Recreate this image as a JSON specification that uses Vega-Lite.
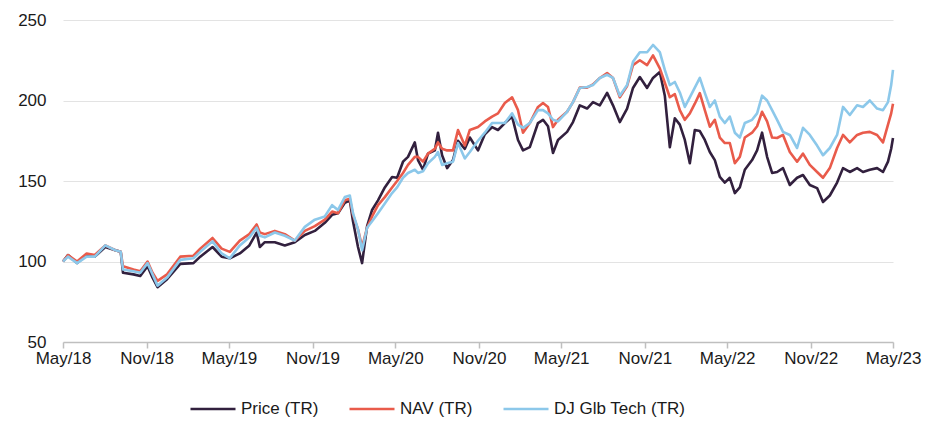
{
  "$schema": "https://vega.github.io/schema/vega-lite/v6.json",
  "width": 830,
  "height": 322,
  "autosize": {"type": "none"},
  "padding": {"left": 63, "top": 20, "right": 48, "bottom": 79},
  "background": "white",
  "config": {
    "view": {"stroke": null},
    "font": "Liberation Sans",
    "axis": {"labelFont": "Liberation Sans", "labelFontSize": 17, "labelColor": "#1a1a1a"},
    "legend": {"labelFont": "Liberation Sans", "labelFontSize": 17, "labelColor": "#1a1a1a"}
  },
  "data": {
    "values": [
      {"d": "2018-05-01", "P": 100, "N": 100, "B": 100},
      {"d": "2018-05-12", "P": 104, "N": 104, "B": 103},
      {"d": "2018-06-01", "P": 99, "N": 100, "B": 99},
      {"d": "2018-06-22", "P": 104, "N": 105, "B": 103},
      {"d": "2018-07-10", "P": 103, "N": 104, "B": 103},
      {"d": "2018-08-02", "P": 109, "N": 110, "B": 110},
      {"d": "2018-08-24", "P": 107, "N": 107, "B": 107},
      {"d": "2018-09-05", "P": 106, "N": 106, "B": 106},
      {"d": "2018-09-10", "P": 93, "N": 97, "B": 95},
      {"d": "2018-10-03", "P": 92, "N": 95, "B": 94},
      {"d": "2018-10-18", "P": 91, "N": 94, "B": 93},
      {"d": "2018-11-03", "P": 97, "N": 100, "B": 99},
      {"d": "2018-11-14", "P": 90, "N": 93, "B": 92},
      {"d": "2018-11-25", "P": 84, "N": 88, "B": 85},
      {"d": "2018-12-16", "P": 89, "N": 92, "B": 90},
      {"d": "2019-01-14", "P": 98.5, "N": 103, "B": 101},
      {"d": "2019-02-12", "P": 99, "N": 103.6, "B": 102},
      {"d": "2019-02-27", "P": 103, "N": 108, "B": 106},
      {"d": "2019-03-26", "P": 109, "N": 114.6, "B": 112.5},
      {"d": "2019-04-15", "P": 103, "N": 108, "B": 105},
      {"d": "2019-05-03", "P": 102, "N": 106, "B": 102},
      {"d": "2019-05-25", "P": 105, "N": 113, "B": 110},
      {"d": "2019-06-15", "P": 110, "N": 117, "B": 115},
      {"d": "2019-07-01", "P": 118, "N": 123, "B": 121},
      {"d": "2019-07-08", "P": 109, "N": 118, "B": 116},
      {"d": "2019-07-19", "P": 112, "N": 117, "B": 115},
      {"d": "2019-08-10", "P": 112, "N": 119, "B": 118},
      {"d": "2019-09-01", "P": 110, "N": 117, "B": 116},
      {"d": "2019-09-23", "P": 112, "N": 113, "B": 113},
      {"d": "2019-10-15", "P": 116.5, "N": 119, "B": 121.5},
      {"d": "2019-11-06", "P": 119, "N": 122, "B": 126},
      {"d": "2019-11-28", "P": 124, "N": 126, "B": 128},
      {"d": "2019-12-14", "P": 129, "N": 131, "B": 135},
      {"d": "2019-12-27", "P": 130, "N": 130, "B": 132},
      {"d": "2020-01-11", "P": 136.5, "N": 138, "B": 140},
      {"d": "2020-01-22", "P": 138, "N": 139, "B": 141},
      {"d": "2020-01-29", "P": 125, "N": 129, "B": 130},
      {"d": "2020-02-09", "P": 109, "N": 120, "B": 120},
      {"d": "2020-02-18", "P": 99, "N": 109, "B": 107},
      {"d": "2020-02-29", "P": 122, "N": 121, "B": 121},
      {"d": "2020-03-11", "P": 132, "N": 128, "B": 125},
      {"d": "2020-03-24", "P": 138, "N": 135, "B": 130},
      {"d": "2020-04-08", "P": 146, "N": 140, "B": 136},
      {"d": "2020-04-24", "P": 152.5, "N": 146, "B": 142.5},
      {"d": "2020-05-05", "P": 152, "N": 150, "B": 146},
      {"d": "2020-05-18", "P": 162, "N": 155, "B": 152},
      {"d": "2020-05-29", "P": 165, "N": 160, "B": 155},
      {"d": "2020-06-13", "P": 174, "N": 165, "B": 157},
      {"d": "2020-06-20", "P": 163, "N": 165, "B": 155},
      {"d": "2020-07-01", "P": 157, "N": 162, "B": 156},
      {"d": "2020-07-12", "P": 167, "N": 167, "B": 161},
      {"d": "2020-07-27", "P": 169, "N": 170, "B": 165},
      {"d": "2020-08-03", "P": 180, "N": 174, "B": 168},
      {"d": "2020-08-12", "P": 166, "N": 170, "B": 160},
      {"d": "2020-08-23", "P": 158, "N": 169, "B": 161},
      {"d": "2020-09-05", "P": 163, "N": 169, "B": 162},
      {"d": "2020-09-16", "P": 175, "N": 181.7, "B": 173.6},
      {"d": "2020-10-01", "P": 170, "N": 172, "B": 164},
      {"d": "2020-10-12", "P": 177, "N": 181.7, "B": 168},
      {"d": "2020-10-30", "P": 169, "N": 183.5, "B": 175},
      {"d": "2020-11-14", "P": 179, "N": 187, "B": 180},
      {"d": "2020-11-30", "P": 183.5, "N": 190, "B": 186},
      {"d": "2020-12-13", "P": 181.7, "N": 192, "B": 186},
      {"d": "2020-12-28", "P": 186, "N": 198.4, "B": 186},
      {"d": "2021-01-13", "P": 190, "N": 202, "B": 192},
      {"d": "2021-01-26", "P": 175.5, "N": 194, "B": 185},
      {"d": "2021-02-06", "P": 169, "N": 180, "B": 183},
      {"d": "2021-02-21", "P": 171, "N": 186, "B": 186},
      {"d": "2021-03-11", "P": 186, "N": 196, "B": 194},
      {"d": "2021-03-22", "P": 188, "N": 198.4, "B": 194},
      {"d": "2021-04-02", "P": 184, "N": 196, "B": 192},
      {"d": "2021-04-13", "P": 167.4, "N": 183.5, "B": 188},
      {"d": "2021-04-24", "P": 175.5, "N": 188, "B": 187},
      {"d": "2021-05-14", "P": 180.5, "N": 193, "B": 193},
      {"d": "2021-05-27", "P": 186.6, "N": 199, "B": 199},
      {"d": "2021-06-11", "P": 197, "N": 208, "B": 207.8},
      {"d": "2021-06-27", "P": 195, "N": 208, "B": 208.4},
      {"d": "2021-07-10", "P": 199, "N": 210, "B": 209.6},
      {"d": "2021-07-25", "P": 197, "N": 214, "B": 214},
      {"d": "2021-08-10", "P": 204.7, "N": 217, "B": 216},
      {"d": "2021-08-23", "P": 197, "N": 214, "B": 214},
      {"d": "2021-09-07", "P": 186.6, "N": 202, "B": 203},
      {"d": "2021-09-23", "P": 195, "N": 209, "B": 209.6},
      {"d": "2021-10-06", "P": 207.8, "N": 222, "B": 224},
      {"d": "2021-10-21", "P": 214.6, "N": 225, "B": 230},
      {"d": "2021-11-06", "P": 207.8, "N": 222, "B": 230},
      {"d": "2021-11-19", "P": 214, "N": 228, "B": 234.5},
      {"d": "2021-12-04", "P": 217.7, "N": 220, "B": 230},
      {"d": "2021-12-15", "P": 203, "N": 211, "B": 219},
      {"d": "2021-12-26", "P": 171, "N": 202, "B": 209.6},
      {"d": "2022-01-06", "P": 189, "N": 204, "B": 211.5},
      {"d": "2022-01-17", "P": 185, "N": 194, "B": 205},
      {"d": "2022-01-28", "P": 175.5, "N": 188, "B": 196},
      {"d": "2022-02-08", "P": 161, "N": 192, "B": 202},
      {"d": "2022-02-19", "P": 181.7, "N": 198, "B": 208},
      {"d": "2022-03-02", "P": 181, "N": 204.6, "B": 214},
      {"d": "2022-03-13", "P": 175.5, "N": 194, "B": 204.7},
      {"d": "2022-03-24", "P": 168, "N": 183.7, "B": 196},
      {"d": "2022-04-04", "P": 163, "N": 188, "B": 200},
      {"d": "2022-04-15", "P": 152.5, "N": 177, "B": 190},
      {"d": "2022-04-26", "P": 149, "N": 173.6, "B": 186},
      {"d": "2022-05-07", "P": 152, "N": 173.6, "B": 190},
      {"d": "2022-05-18", "P": 142.5, "N": 161, "B": 180},
      {"d": "2022-05-29", "P": 146, "N": 165, "B": 177},
      {"d": "2022-06-09", "P": 157, "N": 177, "B": 186},
      {"d": "2022-06-25", "P": 163, "N": 180, "B": 188},
      {"d": "2022-07-06", "P": 169, "N": 184, "B": 192},
      {"d": "2022-07-17", "P": 180, "N": 193, "B": 203},
      {"d": "2022-07-28", "P": 165, "N": 187, "B": 200},
      {"d": "2022-08-08", "P": 155, "N": 177, "B": 194},
      {"d": "2022-08-19", "P": 155.6, "N": 176.7, "B": 188},
      {"d": "2022-09-01", "P": 158, "N": 178.6, "B": 180.5},
      {"d": "2022-09-16", "P": 147.5, "N": 168, "B": 178.6},
      {"d": "2022-10-02", "P": 152, "N": 162, "B": 170.5},
      {"d": "2022-10-15", "P": 153.7, "N": 167, "B": 183},
      {"d": "2022-10-30", "P": 147.5, "N": 160, "B": 178.6},
      {"d": "2022-11-15", "P": 145.6, "N": 155.6, "B": 172},
      {"d": "2022-11-28", "P": 137, "N": 152, "B": 166},
      {"d": "2022-12-13", "P": 141, "N": 158, "B": 170.5},
      {"d": "2022-12-29", "P": 149, "N": 170.5, "B": 178.6},
      {"d": "2023-01-11", "P": 158, "N": 178.6, "B": 196},
      {"d": "2023-01-26", "P": 155.6, "N": 174, "B": 191},
      {"d": "2023-02-11", "P": 158, "N": 178.6, "B": 197},
      {"d": "2023-02-24", "P": 155.6, "N": 180, "B": 196},
      {"d": "2023-03-11", "P": 157, "N": 180.5, "B": 200},
      {"d": "2023-03-27", "P": 158, "N": 178.6, "B": 195},
      {"d": "2023-04-09", "P": 155.6, "N": 174, "B": 194},
      {"d": "2023-04-20", "P": 162, "N": 185, "B": 199},
      {"d": "2023-04-27", "P": 170, "N": 192, "B": 209.6},
      {"d": "2023-05-01", "P": 176.7, "N": 198, "B": 219}
    ]
  },
  "transform": [
    {"fold": ["P", "N", "B"], "as": ["key", "value"]},
    {"lookup": "key", "from": {"data": {"values": [
      {"key": "P", "series": "Price (TR)"},
      {"key": "N", "series": "NAV (TR)"},
      {"key": "B", "series": "DJ Glb Tech (TR)"}
    ]}, "key": "key", "fields": ["series"]}}
  ],
  "mark": {"type": "line", "strokeWidth": 2.6, "interpolate": "linear", "strokeJoin": "round"},
  "encoding": {
    "x": {
      "field": "d", "type": "temporal",
      "scale": {"domain": ["2018-05-01", "2023-05-01"], "nice": false},
      "axis": {
        "title": null,
        "values": ["2018-05-01", "2018-11-01", "2019-05-01", "2019-11-01", "2020-05-01", "2020-11-01", "2021-05-01", "2021-11-01", "2022-05-01", "2022-11-01", "2023-05-01"],
        "format": "%b/%y",
        "grid": false,
        "domainColor": "#bfbfbf",
        "domainWidth": 1.5,
        "tickColor": "#bfbfbf",
        "tickWidth": 1.5,
        "tickSize": 6,
        "labelPadding": 2,
        "labelFlush": false,
        "labelOverlap": false
      }
    },
    "y": {
      "field": "value", "type": "quantitative",
      "scale": {"domain": [50, 250], "nice": false, "zero": false},
      "axis": {
        "title": null,
        "values": [50, 100, 150, 200, 250],
        "domain": false,
        "ticks": false,
        "labelPadding": 17,
        "gridColor": "#e3e3e3",
        "gridWidth": 1
      }
    },
    "color": {
      "field": "series", "type": "nominal",
      "scale": {"domain": ["Price (TR)", "NAV (TR)", "DJ Glb Tech (TR)"], "range": ["#32203e", "#e95b4b", "#8cc8ea"]},
      "legend": {
        "title": null,
        "orient": "none",
        "direction": "horizontal",
        "legendX": 126,
        "legendY": 365,
        "symbolType": "stroke",
        "symbolSize": 2025,
        "symbolStrokeWidth": 2.6,
        "labelOffset": 4,
        "columnPadding": 25
      }
    },
    "order": {"field": "d", "type": "temporal"}
  }
}
